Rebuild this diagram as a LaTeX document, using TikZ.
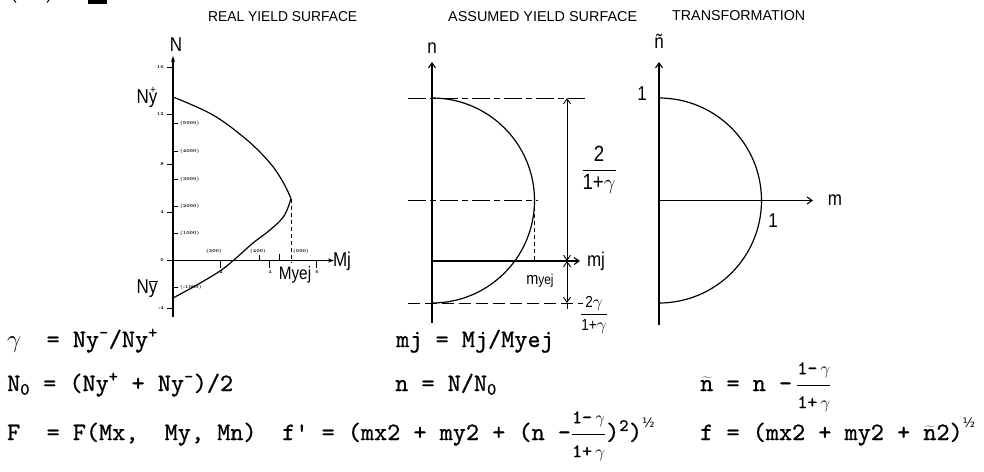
\documentclass[tikz,border=0pt]{standalone}
\usepackage{fontspec}
\usepackage{graphicx}
\usetikzlibrary{arrows.meta}
\newfontfamily\lett[FakeStretch=0.85]{Liberation Sans}
\newfontfamily\djv{DejaVu Sans}
\newfontfamily\eqfam{lmmono10-regular.otf}[FakeBold=0.8]
\newcommand\eqf{\eqfam\fontsize{25}{29}\selectfont}
\newcommand\supx[1]{\textsuperscript{#1}}
\newcommand\halfsup{\raisebox{1.15ex}{\djv\fontsize{13}{13}\selectfont ½}}
\newcommand\ttiln{$\widetilde{\hbox{n}}$}
\newcommand\gfrac{$\displaystyle\frac{\hbox{\fontsize{19}{20}\selectfont 1-\,$\gamma$}}{\hbox{\fontsize{19}{20}\selectfont 1+\,$\gamma$}}$}
\newcommand\gcell{\makebox[0.525em][l]{$\gamma$}}
\tikzset{
  axis/.style={line width=1.1pt},
  curve/.style={line width=1.2pt},
  dashdot/.style={line width=1pt, dash pattern=on 18pt off 4pt on 6pt off 4pt},
  dashln/.style={line width=1pt, dash pattern=on 12pt off 5pt},
  dotdash/.style={line width=1pt, dash pattern=on 4pt off 3pt},
  lab/.style={font=\lett\fontsize{20}{22}\selectfont, inner sep=0pt},
  ticklab/.style={font=\fontsize{4.5}{5}\selectfont\bfseries, inner sep=0pt},
  eq/.style={font=\eqf, inner sep=0pt, anchor=base west},
  ttl/.style={font=\lett, inner sep=0pt, anchor=base west},
  arr/.style={-{Stealth[length=6pt,width=4pt]}},
  barb/.style={-{Straight Barb[length=5pt,width=7pt]}},
  barbs/.style={{Straight Barb[length=5pt,width=7pt]}-{Straight Barb[length=5pt,width=7pt]}},
}
\begin{document}
\begin{tikzpicture}[x=1pt,y=-1pt]
\useasboundingbox (0,0) rectangle (984,471);
% fragments at the top edge
\fill (88,0) rectangle (107,3.5);
\draw[line width=1pt] (14,0) -- (16,2.5);
\draw[line width=1pt] (49,0) -- (47,2.5);
% titles
\node[ttl] (t1) at (208,21) {\resizebox{149pt}{10pt}{REAL YIELD SURFACE}};
\node[ttl] (t2) at (448,21) {\resizebox{189pt}{10pt}{ASSUMED YIELD SURFACE}};
\node[ttl] (t3) at (672,20) {\resizebox{133pt}{10pt}{TRANSFORMATION}};
% ---------- left graph
\coordinate (LO) at (173,260.5);
\coordinate (LNtop) at (173,56);
\coordinate (LNbot) at (173,317);
\coordinate (LMend) at (334,260.5);
\draw[axis,arr] (LNbot) -- (LNtop);
\draw[axis,arr] (LO) -- (LMend);
\foreach \y/\t [count=\i] in {67/16,114/12,164/8,212/4,260.5/0,308/-4}{
  \draw[line width=0.8pt] (167,\y) -- (173,\y);
  \node[ticklab, anchor=east] (nl\i) at (164,\y) {\t};
}
\foreach \y/\t [count=\i] in {123/(5000),151/(4000),179/(3000),206/(2000),233/(1000),287/(-1000)}{
  \draw[line width=0.8pt] (173,\y) -- (178,\y);
  \node[ticklab, anchor=west] (nr\i) at (180,\y) {\t};
}
\foreach \x/\t [count=\i] in {220/2,269/4,316/6}{
  \draw[line width=0.8pt] (\x,260.5) -- (\x,268);
  \node[ticklab] (mb\i) at (\x+1,272) {\t};
}
\foreach \x/\t [count=\i] in {214/(300),258/(400),301/(600)}{
  \node[ticklab] (ma\i) at (\x,251) {\t};
}
\draw[line width=0.8pt] (259,255) -- (259,260.5);
\draw[line width=0.8pt] (279,254) -- (279,260.5);
\coordinate (V) at (291,198.5);
\draw[curve] plot[smooth, tension=0.6] coordinates {(173,97) (213,115) (247,140) (270,163) (283,182) (291,198.5)};
\draw[curve] plot[smooth, tension=0.6] coordinates {(291,198.5) (284,216) (270,230) (253,243) (235,259) (220,271) (195,286) (173,298)};
\coordinate (Vb) at (291,263);
\draw[dotdash] (V) -- (Vb);
\node[lab] (lN) at (176,45) {N};
\node[lab] (lNyp) at (147,97) {N\ooalign{y\cr\hidewidth\raisebox{0.5em}{\fontsize{11}{11}\selectfont +}\hidewidth\cr}};
\node[lab] (lNym) at (147,287) {N\ooalign{y\cr\hidewidth\raisebox{0.62em}{\rule{0.45em}{0.9pt}}\hidewidth\cr}};
\node[lab] (lMj) at (342,261) {Mj};
\node[lab, font=\lett\fontsize{18}{20}\selectfont] (lMyej) at (295,275) {Myej};
% ---------- middle graph
\coordinate (MO) at (432,261);
\coordinate (Mtop) at (432,62);
\coordinate (Mbot) at (432,323);
\coordinate (Mend) at (580,261);
\draw[axis,barb] (Mbot) -- (Mtop);
\draw[axis,barb] (MO) -- (Mend);
\coordinate (A1) at (408,98);  \coordinate (A2) at (585,98);
\coordinate (B1) at (408,200); \coordinate (B2) at (538,200);
\coordinate (C1) at (408,303); \coordinate (C2) at (583,303);
\draw[dashdot] (A1) -- (A2);
\draw[dashdot] (B1) -- (B2);
\draw[dashln] (C1) -- (C2);
\draw[curve] (432,98) arc[start angle=-90, end angle=90, radius=102.5];
\coordinate (E1) at (534,207); \coordinate (E2) at (534,261);
\draw[dotdash] (E1) -- (E2);
\coordinate (D1) at (567,98); \coordinate (D2) at (567,261);
\coordinate (D3) at (567,303); \coordinate (D4) at (567,309);
\draw[line width=0.9pt, barbs] (D1) -- (D2);
\draw[line width=0.9pt, barbs] (D2) -- (D3);
\draw[line width=0.9pt] (D3) -- (D4);
\node[lab] (ln) at (432,48) {n};
\node[lab] (lmj) at (596,261) {mj};
\node[lab, font=\lett\fontsize{17}{19}\selectfont] (lmyej) at (540,281) {m{\fontsize{14}{16}\selectfont yej}};
\node[lab, font=\lett\fontsize{22}{24}\selectfont] (fr1) at (599,170) {$\displaystyle\frac{\hbox{2}}{\hbox{1+$\gamma$}}$};
\node[lab, font=\lett\fontsize{16}{18}\selectfont] (fr2) at (594,315) {$\displaystyle\frac{\hbox{2$\gamma$}}{\hbox{1+$\gamma$}}$};
% ---------- right graph
\coordinate (RO) at (659,200.5);
\coordinate (Rtop) at (659,62);
\coordinate (Rbot) at (659,325);
\coordinate (Rend) at (813,200.5);
\draw[axis,barb] (Rbot) -- (Rtop);
\draw[axis,barb] (RO) -- (Rend);
\draw[curve] (659,98) arc[start angle=-90, end angle=90, radius=102.5];
\node[lab] (lnt) at (659,41) {ñ};
\node[lab] (l1a) at (642,94) {1};
\node[lab] (lm) at (835,200) {m};
\node[lab] (l1b) at (773,221) {1};
% ---------- equations
\node[eq] (e1a) at (7,347) {\gcell\ \ = Ny\supx{-}/Ny\supx{+}};
\node[eq] (e1b) at (396,347) {mj = Mj/Myej};
\node[eq] (e2a) at (7,391) {N\textsubscript{0} = (Ny\supx{+} + Ny\supx{-})/2};
\node[eq] (e2b) at (395,391) {n = N/N\textsubscript{0}};
\node[eq] (e2c) at (700,391) {\ttiln{} = n -\,\gfrac};
\node[eq] (e3a) at (7,440) {F\ \ = F(Mx,\ \ My, Mn)};
\node[eq] (e3b) at (282,440) {f' = (mx2 + my2 + (n -\gfrac)\supx{2})\halfsup};
\node[eq] (e3c) at (700,440) {f = (mx2 + my2 + \ttiln2)\halfsup};
\end{tikzpicture}
\end{document}
